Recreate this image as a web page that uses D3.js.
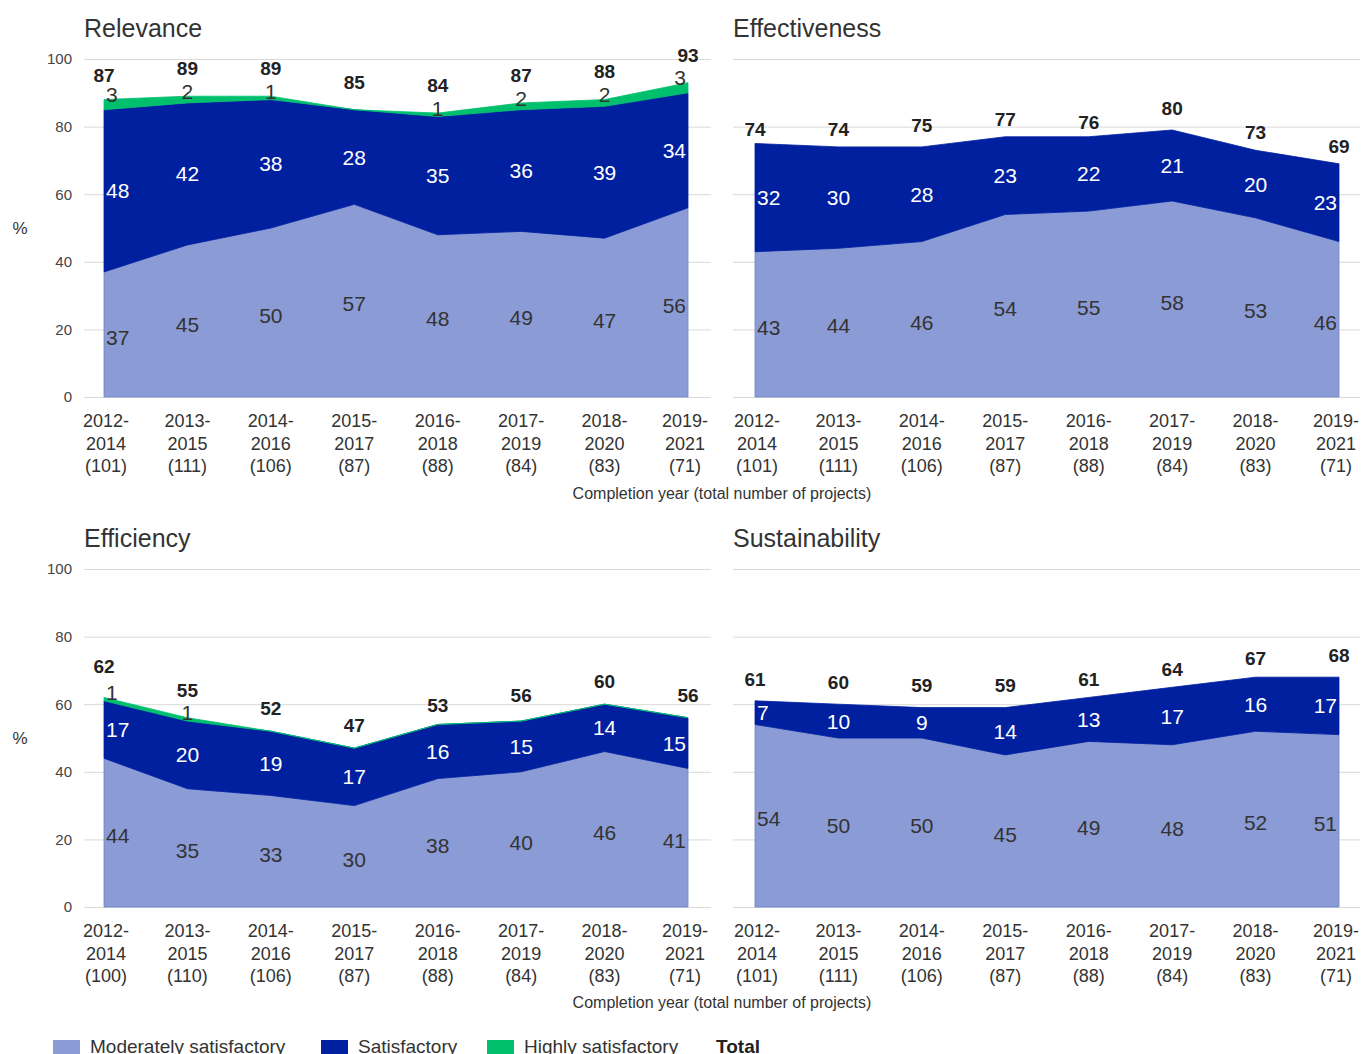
<!DOCTYPE html>
<html>
<head>
<meta charset="utf-8">
<script src="https://cdn.jsdelivr.net/npm/d3@7"></script>
<style>
  html, body { margin: 0; padding: 0; background: #fff; }
  svg { display: block; font-family: "Liberation Sans", Arial, sans-serif; }
</style>
</head>
<body>
<svg id="chart" width="1362" height="1054"></svg>
<script>
// Completion-year windows (x categories)
const periods = [["2012-", "2014"], ["2013-", "2015"], ["2014-", "2016"], ["2015-", "2017"],
                 ["2016-", "2018"], ["2017-", "2019"], ["2018-", "2020"], ["2019-", "2021"]];
const projectCounts = ["(101)", "(111)", "(106)", "(87)", "(88)", "(84)", "(83)", "(71)"];
const projectCountsEfficiency = ["(100)", "(110)", "(106)", "(87)", "(88)", "(84)", "(83)", "(71)"];

const yTicks = [0, 20, 40, 60, 80, 100];

// Relevance
const relevanceModerate     = [37, 45, 50, 57, 48, 49, 47, 56];
const relevanceSatisfactory = [48, 42, 38, 28, 35, 36, 39, 34];
const relevanceHighly       = [3, 2, 1, 0, 1, 2, 2, 3];
const relevanceTotal        = [87, 89, 89, 85, 84, 87, 88, 93];

// Effectiveness
const effectivenessModerate     = [43, 44, 46, 54, 55, 58, 53, 46];
const effectivenessSatisfactory = [32, 30, 28, 23, 22, 21, 20, 23];
const effectivenessHighly       = [0, 0, 0, 0, 0, 0, 0, 0];
const effectivenessTotal        = [74, 74, 75, 77, 76, 80, 73, 69];

// Efficiency
const efficiencyModerate     = [44, 35, 33, 30, 38, 40, 46, 41];
const efficiencySatisfactory = [17, 20, 19, 17, 16, 15, 14, 15];
const efficiencyHighly       = [1, 1, 0, 0, 0, 0, 0, 0];
const efficiencyTotal        = [62, 55, 52, 47, 53, 56, 60, 56];

// Sustainability
const sustainabilityModerate     = [54, 50, 50, 45, 49, 48, 52, 51];
const sustainabilitySatisfactory = [7, 10, 9, 14, 13, 17, 16, 17];
const sustainabilityHighly       = [0, 0, 0, 0, 0, 0, 0, 0];
const sustainabilityTotal        = [61, 60, 59, 59, 61, 64, 67, 68];

const seriesNames = ["Moderately satisfactory", "Satisfactory", "Highly satisfactory"];
const colors = { moderate: "#8b9bd5", satisfactory: "#0020a0", highly: "#00c06e" };

const svg = d3.select("#chart");

const panels = [
  { title: "Relevance", moderate: relevanceModerate, satisfactory: relevanceSatisfactory,
    highly: relevanceHighly, total: relevanceTotal, counts: projectCounts,
    gridX: [84, 711], pointX: [104, 688], yRange: [397, 59], showY: true,
    totalOffset: 28, hsExtra: 0, axisTitle: false },
  { title: "Effectiveness", moderate: effectivenessModerate, satisfactory: effectivenessSatisfactory,
    highly: effectivenessHighly, total: effectivenessTotal, counts: projectCounts,
    gridX: [733, 1360], pointX: [755, 1339], yRange: [397, 59], showY: false,
    totalOffset: 18, hsExtra: 0, axisTitle: true, axisTitleY: 499 },
  { title: "Efficiency", moderate: efficiencyModerate, satisfactory: efficiencySatisfactory,
    highly: efficiencyHighly, total: efficiencyTotal, counts: projectCountsEfficiency,
    gridX: [84, 711], pointX: [104, 688], yRange: [907, 569], showY: true,
    totalOffset: 23, hsExtra: 8, axisTitle: false },
  { title: "Sustainability", moderate: sustainabilityModerate, satisfactory: sustainabilitySatisfactory,
    highly: sustainabilityHighly, total: sustainabilityTotal, counts: projectCounts,
    gridX: [733, 1360], pointX: [755, 1339], yRange: [907, 569], showY: false,
    totalOffset: 22, hsExtra: 0, axisTitle: true, axisTitleY: 1008 }
];

panels.forEach(p => {
  const g = svg.append("g");
  const n = p.moderate.length;
  const idx = d3.range(n);
  const x = d3.scalePoint().domain(idx).range(p.pointX);
  const y = d3.scaleLinear().domain([0, 100]).range(p.yRange);

  // Title
  g.append("text")
    .attr("x", p.gridX[0]).attr("y", p.yRange[1] - 22)
    .attr("font-size", 25).attr("fill", "#333")
    .text(p.title);

  // Gridlines
  const grid = d3.axisLeft(y).tickValues(yTicks)
    .tickSize(-(p.gridX[1] - p.gridX[0])).tickFormat("");
  const gg = g.append("g").attr("transform", `translate(${p.gridX[0]},0)`).call(grid);
  gg.select(".domain").remove();
  gg.selectAll(".tick line").attr("stroke", "#d9d9d9").attr("stroke-width", 1);

  if (p.showY) {
    const ya = d3.axisLeft(y).tickValues(yTicks).tickSize(0).tickPadding(12);
    const yg = g.append("g").attr("transform", `translate(${p.gridX[0]},0)`).call(ya);
    yg.select(".domain").remove();
    yg.selectAll("text").attr("font-size", 15).attr("fill", "#444")
      .attr("font-family", "Liberation Sans, Arial, sans-serif");
    g.append("text").attr("x", 20).attr("y", y(50) + 6)
      .attr("text-anchor", "middle").attr("font-size", 17).attr("fill", "#333").text("%");
  }

  // Stacked areas
  const rows = idx.map(i => ({ i, moderate: p.moderate[i], satisfactory: p.satisfactory[i], highly: p.highly[i] }));
  const stack = d3.stack().keys(["moderate", "satisfactory", "highly"])(rows);
  const area = d3.area()
    .x(d => x(d.data.i))
    .y0(d => y(d[0]))
    .y1(d => y(d[1]));

  stack.forEach(layer => {
    if (d3.max(layer, d => d[1] - d[0]) === 0) return;
    g.append("path")
      .datum(layer)
      .attr("d", area)
      .attr("fill", colors[layer.key])
      .attr("stroke", layer.key === "moderate" ? "#6f87c9" : colors[layer.key])
      .attr("stroke-width", 0.8);
  });

  const anchorFor = i => i === 0 ? "start" : (i === n - 1 ? "end" : "middle");
  const dxFor = i => i === 0 ? 2 : (i === n - 1 ? -2 : 0);

  // Segment labels
  stack.forEach(layer => {
    layer.forEach((d, i) => {
      const v = d[1] - d[0];
      if (v === 0) return;
      let cy, fill;
      if (layer.key === "moderate") { cy = y((d[0] + d[1]) / 2) + 3; fill = "#333"; }
      else if (layer.key === "satisfactory") { cy = y((d[0] + d[1]) / 2); fill = "#fff"; }
      else { cy = y(d[1]) - 5; fill = "#333"; }
      g.append("text")
        .attr("x", x(i) + dxFor(i)).attr("y", cy)
        .attr("dy", "0.36em")
        .attr("text-anchor", anchorFor(i))
        .attr("font-size", 21).attr("fill", fill)
        .text(v);
    });
  });

  // Totals
  p.total.forEach((t, i) => {
    const off = p.totalOffset + (p.highly[i] > 0 ? p.hsExtra : 0);
    g.append("text")
      .attr("x", x(i)).attr("y", y(t) - off)
      .attr("dy", "0.36em")
      .attr("text-anchor", "middle")
      .attr("font-size", 19).attr("font-weight", "bold").attr("fill", "#222")
      .text(t);
  });

  // Category labels (end labels nudged inward slightly)
  const baseY = p.yRange[0] + 30;
  const labelX = i => x(i) + (i === 0 ? 2 : (i === n - 1 ? -3 : 0));
  idx.forEach(i => {
    const t = g.append("text").attr("x", labelX(i)).attr("y", baseY)
      .attr("text-anchor", "middle").attr("font-size", 18).attr("fill", "#333");
    t.append("tspan").attr("x", labelX(i)).attr("dy", 0).text(periods[i][0]);
    t.append("tspan").attr("x", labelX(i)).attr("dy", 22.5).text(periods[i][1]);
    t.append("tspan").attr("x", labelX(i)).attr("dy", 22.5).text(p.counts[i]);
  });

  if (p.axisTitle) {
    svg.append("text").attr("x", 722).attr("y", p.axisTitleY)
      .attr("text-anchor", "middle").attr("font-size", 16).attr("fill", "#333")
      .text("Completion year (total number of projects)");
  }
});

// Legend
const legendItems = [
  { label: seriesNames[0], color: colors.moderate, x: 53 },
  { label: seriesNames[1], color: colors.satisfactory, x: 321 },
  { label: seriesNames[2], color: colors.highly, x: 487 }
];
const lg = svg.append("g");
legendItems.forEach(it => {
  lg.append("rect").attr("x", it.x).attr("y", 1040).attr("width", 27).attr("height", 16).attr("fill", it.color);
  lg.append("text").attr("x", it.x + 37).attr("y", 1053)
    .attr("font-size", 19).attr("fill", "#333").text(it.label);
});
lg.append("text").attr("x", 716).attr("y", 1053)
  .attr("font-size", 19).attr("font-weight", "bold").attr("fill", "#222").text("Total");
</script>
</body>
</html>
